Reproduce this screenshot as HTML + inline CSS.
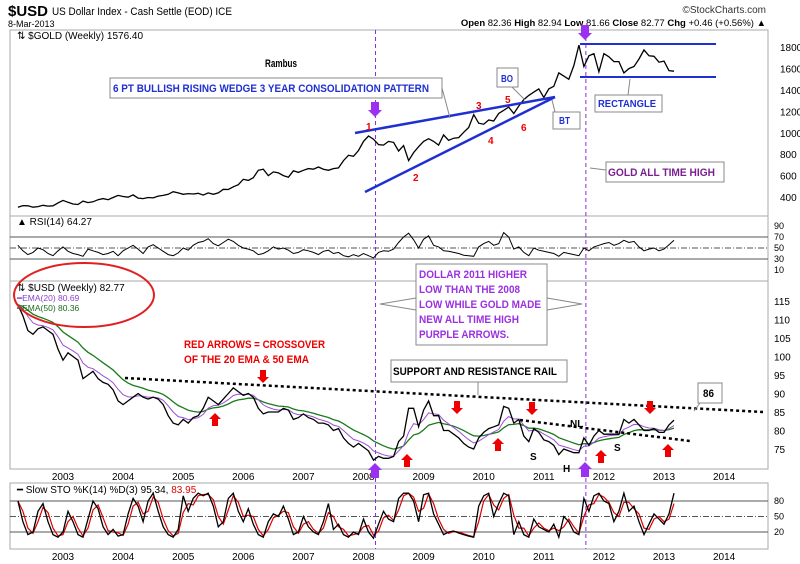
<!DOCTYPE html>
<html><head><meta charset="utf-8"><style>
html,body{margin:0;padding:0;background:#fff;}
svg{display:block;font-family:"Liberation Sans",sans-serif;}
.ann{font-family:"Liberation Sans Narrow","Liberation Sans",sans-serif;font-weight:bold;}
</style></head><body>
<svg id="chart" width="800" height="564" viewBox="0 0 800 564" xmlns="http://www.w3.org/2000/svg">
<g>
<text x="8" y="16" font-size="15" font-weight="bold" textLength="40" lengthAdjust="spacingAndGlyphs">$USD</text>
<text x="52" y="15" font-size="11" textLength="180" lengthAdjust="spacingAndGlyphs">US Dollar Index - Cash Settle (EOD) ICE</text>
<text x="8" y="27" font-size="9">8-Mar-2013</text>
<text x="766" y="13" font-size="10" text-anchor="end" fill="#333">©StockCharts.com</text>
<text x="766" y="26" font-size="9.5" text-anchor="end"><tspan font-weight="bold">Open</tspan> 82.36 <tspan font-weight="bold">High</tspan> 82.94 <tspan font-weight="bold">Low</tspan> 81.66 <tspan font-weight="bold">Close</tspan> 82.77 <tspan font-weight="bold">Chg</tspan> +0.46 (+0.56%) ▲</text>
</g>
<g id="frames"></g>
<g id="axes"></g>
<g id="series"></g>
<g id="annot"></g>
</svg>
<script>
// ---- data (monthly samples, Apr 2002 .. Mar 2013) ----
const startYear = 2002.25;
const goldValues = [305,320,318,305,310,322,315,318,345,
368,350,335,330,362,348,355,375,385,375,395,415,
405,398,420,390,385,395,392,408,415,425,450,438,
425,432,428,435,418,438,425,438,472,470,495,515,
565,555,580,650,660,600,635,625,600,585,645,630,
650,665,660,680,660,650,665,672,740,790,780,835,
920,970,940,890,885,920,910,830,880,740,815,870,
920,945,920,885,980,930,950,955,1005,1050,1170,1090,
1080,1120,1110,1180,1210,1240,1180,1250,1310,1350,1380,1410,
1330,1410,1435,1560,1530,1500,1630,1820,1620,1720,1740,1570,
1740,1710,1665,1665,1560,1600,1620,1690,1775,1720,1715,1660,
1670,1580,1576];
const usdValues = [114,111,107,106,107.5,108,107,106,102,
99,101,100,99,94,95,96,94,93,92.5,91,88,
87,88,89,90,89,88.5,89,88.5,87,84,82,81.5,
83,82,83.5,84,86,89,88,87,88.5,90,91.5,90.5,
89.5,90,89,86,84.5,85,85,85,86,85.5,83,83.5,
84.5,83.5,83,82,82,81.5,80,80.5,78,76.5,75.5,76.5,
75.5,74.5,72,73,72.5,72.5,73,77,78.5,86,86,81,
85.5,88,84,84,80,80,79,78,76.5,75.5,75,78,
79.5,80.5,81,81.5,86.5,86,82,83,78.5,77,80.5,79.5,
77.5,77,76,73.5,75,74.5,74,74,78,76,78.5,80,
79,79,79,79,83,82,83,81.5,80,80,80.5,79.5,
79.5,81.5,82.8];
const rsiValues = [55,45,38,42,50,47,40,36,45,
52,44,40,38,35,48,45,42,38,40,44,36,
45,50,55,48,40,52,56,50,44,38,36,41,
50,46,55,60,62,67,58,54,60,66,62,55,
50,48,45,38,40,45,52,48,50,46,40,42,
47,45,42,38,44,46,40,42,36,34,38,35,
40,36,32,42,45,44,48,60,70,77,65,50,
66,72,55,52,45,44,42,40,37,36,35,52,
58,62,55,58,78,70,48,52,42,36,50,46,
44,42,40,35,42,40,38,36,50,45,52,55,
58,60,55,58,64,60,62,52,45,48,50,45,
48,56,64];
const stoValues = [80,40,15,20,60,75,40,15,10,
20,60,40,15,10,45,80,65,30,15,25,12,
15,55,85,70,40,80,95,60,30,15,10,25,
90,60,85,95,90,95,70,30,40,85,95,60,
40,65,35,15,10,40,55,50,70,45,15,20,
50,30,20,15,40,75,25,35,15,10,20,15,
45,20,8,35,60,45,40,85,95,95,80,40,
92,95,55,35,15,20,22,18,15,12,10,70,
90,95,50,75,95,90,15,40,15,10,45,30,
25,20,35,10,50,40,20,15,85,60,90,95,
80,75,40,60,95,60,70,40,15,35,55,45,
35,55,95];
const yearLabels = ["2003","2004","2005","2006","2007","2008","2009","2010","2011","2012","2013","2014"];
const goldTicks = [400,600,800,1000,1200,1400,1600,1800];
const rsiTicks = [10,30,50,70,90];
const usdTicks = [75,80,85,90,95,100,105,110,115];
const stoTicks = [20,50,80];

// ---- axis functions ----
const NS="http://www.w3.org/2000/svg";
const xT = t => 63 + (t-2003)*60.1;
const xi = i => xT(startYear + i/12);
const yGold = v => 197 - (v-400)*0.107;
const yRsi = v => 259 - (v-30)*0.55;
const yUsd = v => 449 - (v-75)*3.7;
const ySto = v => 532 - (v-20)*0.517;
function mk(parent, tag, attrs, text){
  const e=document.createElementNS(NS,tag);
  for(const k in attrs) e.setAttribute(k,attrs[k]);
  if(text!==undefined) e.textContent=text;
  document.getElementById(parent).appendChild(e);
  return e;
}
function pts(arr, yf){ return arr.map((v,i)=>xi(i).toFixed(1)+","+yf(v).toFixed(1)).join(" "); }
function ema(arr,n){ const k=2/(n+1); const out=[]; arr.forEach((v,i)=>out.push(i?out[i-1]+k*(v-out[i-1]):v)); return out; }
function sma(arr,n){ return arr.map((v,i)=>{const s=arr.slice(Math.max(0,i-n+1),i+1);return s.reduce((a,b)=>a+b,0)/s.length;}); }

// ---- panels ----
const panels=[[10,30,758,187,"gold-panel"],[10,216,758,65,"rsi-panel"],[10,281,758,188,"usd-panel"],[10,483,758,66,"sto-panel"]];
panels.forEach(p=>{
  const r=mk("frames","rect",{x:p[0],y:p[1],width:p[2],height:p[3],fill:"#fff",stroke:"#aaa","stroke-width":1});
  
  
});
goldTicks.forEach(v=>{const t=mk("axes","text",{x:780,y:yGold(v)+4,"font-size":10},String(v));
  
  });
rsiTicks.forEach(v=>{const t=mk("axes","text",{x:774,y:yRsi(v)+3,"font-size":9},String(v));
  
  });
usdTicks.forEach(v=>{const t=mk("axes","text",{x:774,y:yUsd(v)+4,"font-size":10},String(v));
  
  });
stoTicks.forEach(v=>{const t=mk("axes","text",{x:774,y:ySto(v)+3,"font-size":9},String(v));
  
  });
yearLabels.forEach((y,i)=>{
  const a=mk("axes","text",{x:xT(2003+i),y:480,"font-size":10,"text-anchor":"middle"},y);
  
  
  const b=mk("axes","text",{x:xT(2003+i),y:560,"font-size":10,"text-anchor":"middle"},y);
  
  
});
[[yRsi(70),""],[yRsi(30),""],[yRsi(50),"6,2,1,2"],[ySto(80),""],[ySto(20),""],[ySto(50),"6,2,1,2"]].forEach(l=>{
  const e=mk("axes","line",{x1:10,x2:768,y1:l[0],y2:l[0],stroke:"#555","stroke-width":1,"stroke-dasharray":l[1]});
  
  
});
[2008.2,2011.7].forEach(t=>{
  const e=mk("axes","line",{x1:xT(t),x2:xT(t),y1:30,y2:549,stroke:"#8a2be2","stroke-width":1,"stroke-dasharray":"4,3"});
  
  
});

// ---- series ----
let s=mk("series","polyline",{points:pts(goldValues,yGold),fill:"none",stroke:"#000","stroke-width":1.3});


s=mk("series","polyline",{points:pts(rsiValues,yRsi),fill:"none",stroke:"#000","stroke-width":1});


s=mk("series","polyline",{points:pts(ema(usdValues,11.5),yUsd),fill:"none",stroke:"#1a7a1a","stroke-width":1.3});


s=mk("series","polyline",{points:pts(ema(usdValues,4.6),yUsd),fill:"none",stroke:"#9b4fd6","stroke-width":1});


s=mk("series","polyline",{points:pts(usdValues,yUsd),fill:"none",stroke:"#000","stroke-width":1.3});


s=mk("series","polyline",{points:pts(sma(stoValues,2),ySto),fill:"none",stroke:"#d00","stroke-width":1.2});


s=mk("series","polyline",{points:pts(stoValues,ySto),fill:"none",stroke:"#000","stroke-width":1.3});


</script>
<script>
const A=document.getElementById("annot");
A.insertAdjacentHTML("beforeend",`
<text x="17" y="39" font-size="10">⇅ $GOLD (Weekly) 1576.40</text>
<text x="17" y="225" font-size="10">▲ RSI(14) 64.27</text>
<text x="17" y="291" font-size="10">⇅ $USD (Weekly) 82.77</text>
<text x="17" y="301" font-size="8.5" fill="#8a3fd0">━EMA(20) 80.69</text>
<text x="17" y="311" font-size="8.5" fill="#1a6a1a">━EMA(50) 80.36</text>
<ellipse cx="84" cy="295" rx="70" ry="32" fill="none" stroke="#e02020" stroke-width="2"/>
<text x="17" y="493" font-size="10">━ Slow STO %K(14) %D(3) 95.34, <tspan fill="#d00">83.95</tspan></text>
<text x="265" y="67" class="ann" font-size="11" textLength="32" lengthAdjust="spacingAndGlyphs">Rambus</text>
<line x1="355" y1="133" x2="555" y2="97" stroke="#1f2fd0" stroke-width="2.5"/>
<line x1="365" y1="192" x2="555" y2="97" stroke="#1f2fd0" stroke-width="2.5"/>
<line x1="580" y1="44" x2="716" y2="44" stroke="#1f2fd0" stroke-width="2"/>
<line x1="580" y1="77" x2="716" y2="77" stroke="#1f2fd0" stroke-width="2"/>
<g fill="#e00" class="ann" font-size="10">
<text x="366" y="130">1</text><text x="413" y="181">2</text><text x="476" y="109">3</text><text x="488" y="144">4</text><text x="505" y="103">5</text><text x="521" y="131">6</text></g>
<g><polyline points="442,88 450,118" stroke="#888" fill="none"/>
<rect x="110" y="78" width="332" height="20" fill="#fff" stroke="#888"/>
<text x="113" y="92" class="ann" font-size="11" fill="#1f2fd0" textLength="316" lengthAdjust="spacingAndGlyphs">6 PT BULLISH RISING WEDGE 3 YEAR CONSOLIDATION PATTERN</text></g>
<g><line x1="512" y1="87" x2="525" y2="100" stroke="#888"/><rect x="497" y="68" width="21" height="19" fill="#fff" stroke="#888"/><text x="501" y="82" class="ann" font-size="10" fill="#1f2fd0" textLength="12" lengthAdjust="spacingAndGlyphs">BO</text></g>
<g><line x1="555" y1="112" x2="552" y2="100" stroke="#888"/><rect x="553" y="112" width="27" height="17" fill="#fff" stroke="#888"/><text x="559" y="124" class="ann" font-size="10" fill="#1f2fd0" textLength="11" lengthAdjust="spacingAndGlyphs">BT</text></g>
<g><line x1="628" y1="95" x2="630" y2="79" stroke="#888"/><rect x="595" y="95" width="67" height="17" fill="#fff" stroke="#888"/><text x="598" y="107" class="ann" font-size="10" fill="#1f2fd0" textLength="58" lengthAdjust="spacingAndGlyphs">RECTANGLE</text></g>
<g><line x1="606" y1="170" x2="590" y2="168" stroke="#888"/><rect x="606" y="162" width="118" height="20" fill="#fff" stroke="#888"/><text x="608" y="176" class="ann" font-size="11" fill="#7a2090" textLength="107" lengthAdjust="spacingAndGlyphs">GOLD ALL TIME HIGH</text></g>
<g><polyline points="416,298 380,304 416,310" stroke="#888" fill="#fff"/><polyline points="547,298 582,304 547,310" stroke="#888" fill="#fff"/>
<rect x="416" y="264" width="131" height="81" fill="#fff" stroke="#888"/>
<g class="ann" font-size="11" fill="#9b30e0"><text x="419" y="278" textLength="108" lengthAdjust="spacingAndGlyphs">DOLLAR 2011 HIGHER</text><text x="419" y="293" textLength="101" lengthAdjust="spacingAndGlyphs">LOW THAN THE 2008</text><text x="419" y="308" textLength="122" lengthAdjust="spacingAndGlyphs">LOW WHILE GOLD MADE</text><text x="419" y="323" textLength="100" lengthAdjust="spacingAndGlyphs">NEW ALL TIME HIGH</text><text x="419" y="338" textLength="90" lengthAdjust="spacingAndGlyphs">PURPLE ARROWS.</text></g></g>
<text x="184" y="348" class="ann" font-size="11" fill="#e00" textLength="141" lengthAdjust="spacingAndGlyphs">RED ARROWS = CROSSOVER</text>
<text x="184" y="363" class="ann" font-size="11" fill="#e00" textLength="125" lengthAdjust="spacingAndGlyphs">OF THE 20 EMA &amp; 50 EMA</text>
<line x1="125" y1="378" x2="763" y2="412" stroke="#000" stroke-width="2.5" stroke-dasharray="3,3"/>
<line x1="520" y1="420" x2="690" y2="441" stroke="#000" stroke-width="2.5" stroke-dasharray="3,3"/>
<g><line x1="478" y1="382" x2="478" y2="395" stroke="#888"/><rect x="391" y="360" width="176" height="22" fill="#fff" stroke="#888"/><text x="393" y="375" class="ann" font-size="11" fill="#000" textLength="164" lengthAdjust="spacingAndGlyphs">SUPPORT AND RESISTANCE RAIL</text></g>
<g><line x1="700" y1="403" x2="694" y2="411" stroke="#888"/><rect x="698" y="383" width="24" height="20" fill="#fff" stroke="#888"/><text x="703" y="397" class="ann" font-size="11" textLength="11" lengthAdjust="spacingAndGlyphs">86</text></g>
<g class="ann" font-size="10"><text x="570" y="427">NL</text><text x="530" y="460">S</text><text x="563" y="472">H</text><text x="614" y="451">S</text></g>
`);
const upArrows=[[215,413],[407,454],[498,438],[601,450],[668,444]];
const downArrows=[[263,383],[457,414],[532,415],[650,414]];
upArrows.forEach(a=>{const e=document.createElementNS("http://www.w3.org/2000/svg","polygon");
  e.setAttribute("points",`${a[0]},${a[1]} ${a[0]+6},${a[1]+6} ${a[0]+3},${a[1]+6} ${a[0]+3},${a[1]+13} ${a[0]-3},${a[1]+13} ${a[0]-3},${a[1]+6} ${a[0]-6},${a[1]+6}`);
  e.setAttribute("fill","#e00");
  
  
  A.appendChild(e);});
downArrows.forEach(a=>{const e=document.createElementNS("http://www.w3.org/2000/svg","polygon");
  e.setAttribute("points",`${a[0]},${a[1]} ${a[0]+6},${a[1]-6} ${a[0]+3},${a[1]-6} ${a[0]+3},${a[1]-13} ${a[0]-3},${a[1]-13} ${a[0]-3},${a[1]-6} ${a[0]-6},${a[1]-6}`);
  e.setAttribute("fill","#e00");
  
  
  A.appendChild(e);});
const pDown=[[375,117],[585,40]], pUp=[[375,463],[585,462]];
pDown.forEach(a=>{const e=document.createElementNS("http://www.w3.org/2000/svg","polygon");
  e.setAttribute("points",`${a[0]},${a[1]} ${a[0]+7},${a[1]-7} ${a[0]+4},${a[1]-7} ${a[0]+4},${a[1]-15} ${a[0]-4},${a[1]-15} ${a[0]-4},${a[1]-7} ${a[0]-7},${a[1]-7}`);
  e.setAttribute("fill","#9b30f0");
  
  
  A.appendChild(e);});
pUp.forEach(a=>{const e=document.createElementNS("http://www.w3.org/2000/svg","polygon");
  e.setAttribute("points",`${a[0]},${a[1]} ${a[0]+7},${a[1]+7} ${a[0]+4},${a[1]+7} ${a[0]+4},${a[1]+15} ${a[0]-4},${a[1]+15} ${a[0]-4},${a[1]+7} ${a[0]-7},${a[1]+7}`);
  e.setAttribute("fill","#9b30f0");
  
  
  A.appendChild(e);});
</script>
</body></html>
